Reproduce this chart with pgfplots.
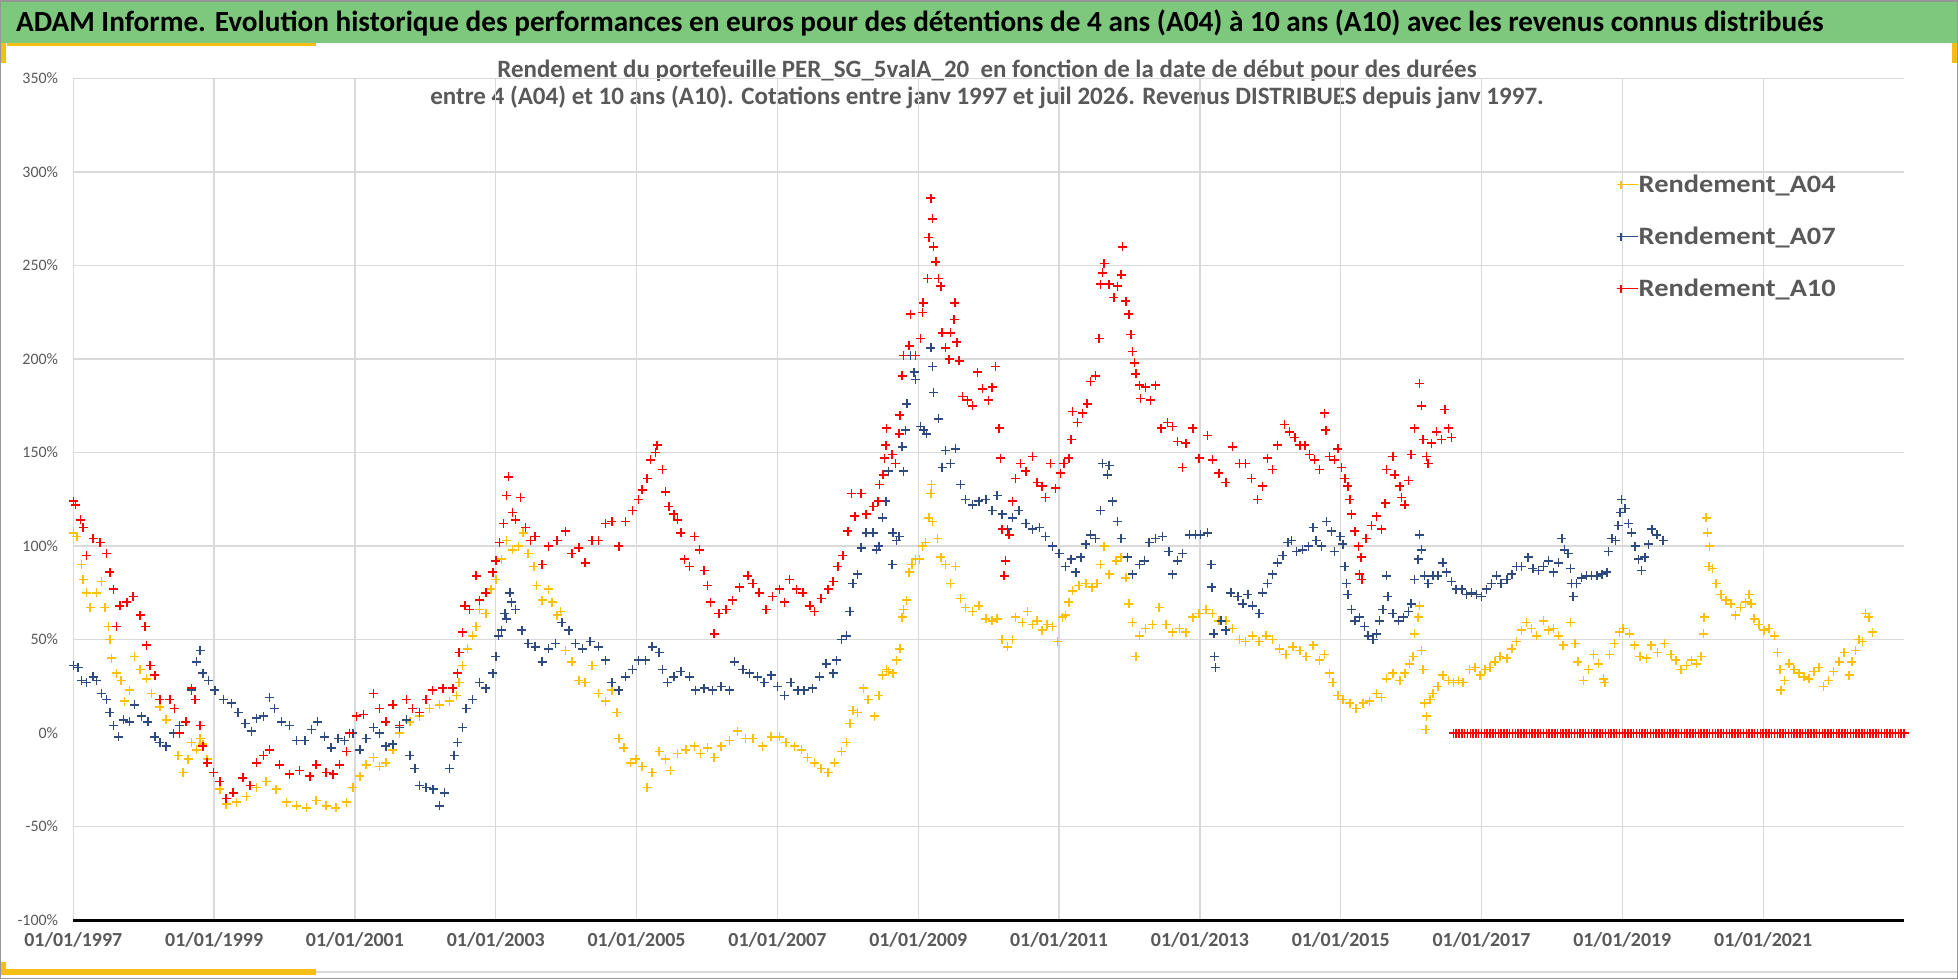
\documentclass[border=0pt]{standalone}
\usepackage{fontspec}
\setmainfont{Carlito}
\usepackage{graphicx}
\usepackage{pgfplots}
\usepackage{pgfplotstable}
\pgfplotsset{compat=1.18}
\definecolor{banner}{RGB}{126,200,126}
\definecolor{accent}{RGB}{245,190,20}
\definecolor{bordergray}{RGB}{150,150,150}
\definecolor{gridgray}{RGB}{217,217,217}
\definecolor{labelgray}{RGB}{89,89,89}
\definecolor{cAfour}{RGB}{255,192,0}
\definecolor{cAseven}{RGB}{46,74,126}
\definecolor{cAten}{RGB}{255,0,0}
\pgfplotsset{legimg/.style={legend image code/.code={\draw[##1,mark size=4bp,line width=1.1bp] plot coordinates {(4bp,0bp)}; \path (0bp,0bp) rectangle (21bp,0bp);}}}

\pgfplotstableread{
x y
1997.00 107
1997.05 105
1997.12 90
1997.14 82
1997.19 75
1997.24 67
1997.33 75
1997.40 81
1997.45 67
1997.50 57
1997.52 50
1997.54 40
1997.61 32
1997.68 28
1997.73 17
1997.80 23
1997.87 41
1997.95 34
1998.04 29
1998.11 21
1998.23 14
1998.32 7
1998.42 0
1998.49 -12
1998.56 -21
1998.63 -14
1998.68 -5
1998.75 -9
1998.80 -3
1998.84 -6
1998.90 -14
1998.99 -21
1999.08 -30
1999.17 -38
1999.32 -37
1999.46 -34
1999.60 -29
1999.74 -26
1999.88 -30
2000.03 -37
2000.17 -39
2000.31 -40
2000.45 -36
2000.59 -39
2000.73 -40
2000.88 -37
2000.97 -29
2001.07 -23
2001.16 -17
2001.26 -13
2001.35 -18
2001.44 -16
2001.54 -9
2001.63 0
2001.78 6
2001.92 9
2002.06 13
2002.20 15
2002.34 17
2002.44 20
2002.48 27
2002.53 36
2002.60 45
2002.67 52
2002.72 57
2002.77 66
2002.86 64
2002.93 77
2003.00 82
2003.08 93
2003.15 103
2003.24 98
2003.32 100
2003.39 107
2003.46 96
2003.54 89
2003.58 79
2003.66 71
2003.75 77
2003.80 70
2003.87 63
2003.92 65
2003.99 44
2004.08 38
2004.18 28
2004.27 27
2004.37 36
2004.46 21
2004.56 17
2004.65 23
2004.72 11
2004.75 -3
2004.82 -8
2004.91 -16
2004.99 -14
2005.08 -18
2005.15 -29
2005.22 -21
2005.32 -10
2005.41 -14
2005.48 -20
2005.58 -11
2005.70 -9
2005.82 -7
2005.91 -11
2006.01 -8
2006.10 -13
2006.20 -7
2006.32 -4
2006.43 1
2006.55 -3
2006.65 -3
2006.79 -7
2006.91 -2
2007.03 -2
2007.12 -5
2007.24 -7
2007.34 -9
2007.43 -13
2007.53 -16
2007.62 -19
2007.72 -21
2007.81 -16
2007.91 -10
2007.98 -5
2008.03 5
2008.07 12
2008.14 11
2008.22 24
2008.29 18
2008.38 9
2008.44 20
2008.49 31
2008.55 34
2008.58 33
2008.64 32
2008.69 39
2008.74 45
2008.77 62
2008.79 66
2008.83 71
2008.87 86
2008.91 90
2008.96 93
2009.02 93
2009.06 100
2009.10 102
2009.15 115
2009.18 128
2009.19 133
2009.20 113
2009.27 104
2009.32 94
2009.39 90
2009.46 80
2009.53 89
2009.60 72
2009.67 67
2009.77 65
2009.86 68
2009.96 61
2010.05 60
2010.12 61
2010.19 50
2010.27 46
2010.34 50
2010.38 62
2010.48 59
2010.55 65
2010.62 58
2010.69 60
2010.76 55
2010.83 58
2010.91 57
2010.98 49
2011.05 62
2011.09 63
2011.14 70
2011.19 76
2011.28 79
2011.38 80
2011.47 78
2011.54 80
2011.59 90
2011.64 100
2011.71 85
2011.81 92
2011.88 94
2011.95 83
2011.99 69
2012.04 59
2012.09 41
2012.14 52
2012.23 56
2012.33 58
2012.42 67
2012.52 58
2012.61 54
2012.71 56
2012.80 54
2012.90 62
2012.99 64
2013.09 66
2013.18 64
2013.27 60
2013.37 60
2013.46 56
2013.56 50
2013.65 49
2013.75 52
2013.84 49
2013.94 52
2014.03 50
2014.13 45
2014.22 42
2014.32 46
2014.42 44
2014.51 41
2014.61 47
2014.70 39
2014.77 42
2014.84 32
2014.89 27
2014.96 20
2015.03 18
2015.13 16
2015.22 13
2015.32 16
2015.41 17
2015.51 21
2015.58 19
2015.65 29
2015.74 32
2015.84 28
2015.91 32
2015.98 37
2016.03 41
2016.05 53
2016.10 62
2016.12 68
2016.15 44
2016.17 34
2016.19 16
2016.21 2
2016.22 9
2016.27 18
2016.31 21
2016.38 25
2016.45 31
2016.53 28
2016.60 27
2016.67 28
2016.74 27
2016.83 34
2016.91 35
2016.98 31
2017.05 34
2017.12 35
2017.19 38
2017.26 41
2017.36 40
2017.43 45
2017.50 49
2017.57 55
2017.64 59
2017.71 56
2017.78 52
2017.88 60
2017.95 55
2018.02 56
2018.09 52
2018.16 47
2018.26 59
2018.33 48
2018.37 38
2018.45 28
2018.52 34
2018.59 42
2018.66 37
2018.73 29
2018.75 27
2018.82 42
2018.89 48
2018.96 54
2019.01 56
2019.10 53
2019.17 47
2019.25 41
2019.34 40
2019.41 47
2019.50 43
2019.60 48
2019.69 42
2019.76 39
2019.83 34
2019.91 36
2019.98 39
2020.05 37
2020.12 41
2020.15 53
2020.16 62
2020.19 115
2020.21 107
2020.23 89
2020.24 100
2020.28 88
2020.33 80
2020.40 74
2020.47 71
2020.54 69
2020.61 63
2020.68 67
2020.75 70
2020.80 74
2020.83 69
2020.87 61
2020.94 58
2021.01 55
2021.08 56
2021.16 52
2021.20 43
2021.24 34
2021.25 23
2021.30 28
2021.37 37
2021.44 34
2021.51 32
2021.58 30
2021.65 29
2021.72 33
2021.79 35
2021.86 25
2021.93 28
2022.00 33
2022.08 38
2022.15 43
2022.22 31
2022.26 38
2022.31 44
2022.36 50
2022.41 49
2022.45 64
2022.50 62
2022.55 54
}\Afour

\pgfplotstableread{
x y
1997.00 36
1997.07 35
1997.12 28
1997.19 27
1997.28 30
1997.33 28
1997.40 21
1997.47 18
1997.52 11
1997.57 4
1997.64 -2
1997.71 7
1997.80 6
1997.87 15
1997.97 9
1998.06 6
1998.16 -2
1998.23 -5
1998.32 -7
1998.42 0
1998.51 4
1998.60 6
1998.68 23
1998.75 38
1998.80 44
1998.84 32
1998.92 28
1999.01 23
1999.13 18
1999.25 16
1999.34 11
1999.44 5
1999.53 1
1999.60 8
1999.70 9
1999.79 19
1999.86 13
1999.96 6
2000.07 4
2000.17 -4
2000.29 -4
2000.38 2
2000.47 6
2000.57 -2
2000.66 -8
2000.76 -3
2000.85 -4
2000.97 0
2001.07 -9
2001.16 -3
2001.26 3
2001.35 0
2001.44 -7
2001.54 -6
2001.63 3
2001.73 7
2001.78 -12
2001.85 -19
2001.92 -28
2002.01 -29
2002.11 -30
2002.20 -39
2002.27 -32
2002.34 -19
2002.41 -12
2002.46 -5
2002.53 3
2002.58 13
2002.67 18
2002.77 27
2002.86 24
2002.96 32
2003.00 41
2003.04 52
2003.08 55
2003.13 64
2003.15 61
2003.20 75
2003.22 70
2003.28 66
2003.37 55
2003.46 48
2003.56 46
2003.66 38
2003.75 45
2003.85 48
2003.94 59
2004.04 55
2004.13 48
2004.23 45
2004.34 49
2004.46 46
2004.56 39
2004.65 27
2004.75 23
2004.84 30
2004.94 34
2005.03 39
2005.13 39
2005.22 46
2005.32 43
2005.37 34
2005.44 27
2005.53 30
2005.63 33
2005.75 30
2005.84 23
2005.96 24
2006.08 23
2006.20 25
2006.32 23
2006.39 38
2006.51 34
2006.60 32
2006.72 30
2006.81 27
2006.91 31
2007.00 25
2007.10 20
2007.19 27
2007.29 23
2007.38 23
2007.50 24
2007.60 30
2007.69 37
2007.79 32
2007.84 39
2007.91 50
2007.98 52
2008.03 65
2008.07 80
2008.14 85
2008.19 99
2008.26 107
2008.36 107
2008.41 98
2008.44 100
2008.49 115
2008.54 124
2008.58 140
2008.63 90
2008.64 107
2008.69 103
2008.73 105
2008.77 153
2008.79 140
2008.82 162
2008.84 176
2008.89 202
2008.94 193
2008.96 189
2009.03 164
2009.08 162
2009.12 160
2009.18 206
2009.20 196
2009.22 182
2009.29 168
2009.34 142
2009.39 151
2009.46 144
2009.53 152
2009.60 133
2009.67 125
2009.77 122
2009.86 124
2009.96 125
2010.05 119
2010.12 127
2010.19 117
2010.27 109
2010.34 115
2010.43 119
2010.53 112
2010.62 109
2010.72 110
2010.81 105
2010.91 100
2011.00 96
2011.09 89
2011.17 93
2011.24 86
2011.31 94
2011.38 101
2011.45 106
2011.52 104
2011.59 119
2011.62 144
2011.69 138
2011.71 143
2011.76 124
2011.83 113
2011.88 104
2011.97 94
2012.04 85
2012.14 90
2012.21 92
2012.28 102
2012.37 104
2012.47 105
2012.56 97
2012.61 85
2012.68 92
2012.75 96
2012.85 106
2012.94 106
2013.01 106
2013.11 107
2013.16 90
2013.17 78
2013.20 53
2013.21 41
2013.22 35
2013.30 60
2013.37 55
2013.44 75
2013.54 73
2013.61 69
2013.68 74
2013.75 68
2013.84 64
2013.89 75
2013.96 80
2014.03 85
2014.10 91
2014.18 95
2014.25 102
2014.30 103
2014.37 97
2014.46 98
2014.54 100
2014.61 110
2014.65 103
2014.73 100
2014.80 113
2014.87 108
2014.91 97
2014.99 105
2015.03 101
2015.06 89
2015.08 80
2015.10 74
2015.15 66
2015.20 60
2015.27 62
2015.34 57
2015.39 52
2015.46 50
2015.51 53
2015.55 60
2015.60 66
2015.65 84
2015.67 73
2015.74 64
2015.82 60
2015.89 62
2015.96 65
2016.00 69
2016.05 82
2016.10 93
2016.12 106
2016.15 98
2016.19 84
2016.24 80
2016.31 84
2016.38 84
2016.45 91
2016.50 86
2016.57 81
2016.64 77
2016.72 77
2016.79 74
2016.86 75
2016.93 74
2017.00 73
2017.07 77
2017.14 80
2017.21 84
2017.28 80
2017.36 82
2017.43 85
2017.50 89
2017.57 89
2017.66 94
2017.73 88
2017.81 87
2017.88 89
2017.95 92
2018.02 86
2018.09 91
2018.14 104
2018.18 98
2018.23 96
2018.26 88
2018.28 80
2018.30 73
2018.35 80
2018.42 83
2018.49 84
2018.56 84
2018.64 84
2018.71 85
2018.78 86
2018.80 97
2018.85 104
2018.90 103
2018.94 111
2018.97 118
2018.99 125
2019.04 120
2019.09 112
2019.13 107
2019.18 100
2019.23 93
2019.27 87
2019.32 94
2019.37 101
2019.42 109
2019.49 106
2019.58 103
}\Aseven

\pgfplotstableread{
x y
1997.00 124
1997.03 122
1997.10 114
1997.14 110
1997.19 95
1997.28 104
1997.38 102
1997.47 96
1997.52 86
1997.57 77
1997.61 57
1997.66 68
1997.76 70
1997.85 73
1997.95 63
1998.02 57
1998.04 47
1998.09 36
1998.16 31
1998.23 18
1998.37 18
1998.44 13
1998.51 0
1998.60 6
1998.68 24
1998.73 18
1998.80 4
1998.84 -7
1998.90 -16
1998.99 -21
1999.08 -26
1999.17 -35
1999.27 -32
1999.41 -24
1999.51 -28
1999.60 -16
1999.70 -12
1999.79 -9
1999.93 -17
2000.07 -22
2000.21 -20
2000.36 -23
2000.45 -17
2000.59 -21
2000.69 -22
2000.78 -17
2000.88 -10
2000.92 0
2001.02 9
2001.12 10
2001.26 21
2001.35 13
2001.44 6
2001.54 15
2001.63 4
2001.73 18
2001.82 13
2001.92 11
2002.01 18
2002.10 23
2002.25 24
2002.39 24
2002.46 32
2002.48 43
2002.53 54
2002.56 68
2002.63 66
2002.72 84
2002.77 71
2002.86 75
2002.96 86
2003.00 92
2003.05 102
2003.11 112
2003.15 127
2003.18 137
2003.24 118
2003.28 114
2003.35 126
2003.42 110
2003.49 103
2003.56 105
2003.66 90
2003.75 100
2003.87 103
2003.99 108
2004.08 96
2004.18 99
2004.27 91
2004.37 103
2004.46 103
2004.56 112
2004.65 113
2004.75 100
2004.84 113
2004.94 119
2005.03 125
2005.08 130
2005.15 136
2005.20 146
2005.27 150
2005.29 154
2005.37 141
2005.41 129
2005.46 121
2005.53 117
2005.58 114
2005.63 107
2005.68 93
2005.75 89
2005.82 105
2005.89 98
2005.96 87
2006.01 79
2006.05 70
2006.10 53
2006.17 64
2006.27 66
2006.36 71
2006.46 78
2006.58 84
2006.65 80
2006.74 75
2006.84 66
2006.93 73
2007.03 77
2007.10 70
2007.17 82
2007.27 77
2007.36 75
2007.46 68
2007.53 65
2007.62 72
2007.72 77
2007.79 81
2007.86 89
2007.93 95
2008.00 108
2008.05 128
2008.10 116
2008.19 128
2008.26 117
2008.36 121
2008.43 124
2008.45 133
2008.50 138
2008.52 147
2008.54 154
2008.55 163
2008.63 149
2008.68 144
2008.73 160
2008.74 170
2008.77 191
2008.79 202
2008.87 207
2008.89 224
2008.96 202
2009.03 211
2009.06 225
2009.07 230
2009.13 243
2009.15 265
2009.18 286
2009.20 275
2009.22 260
2009.25 252
2009.29 243
2009.32 239
2009.34 214
2009.39 206
2009.44 200
2009.46 214
2009.51 221
2009.52 230
2009.55 209
2009.58 199
2009.63 180
2009.70 178
2009.77 175
2009.84 193
2009.91 184
2010.00 178
2010.05 185
2010.10 196
2010.15 163
2010.17 147
2010.19 109
2010.22 84
2010.24 92
2010.29 106
2010.34 124
2010.38 136
2010.45 144
2010.53 140
2010.62 148
2010.69 134
2010.76 132
2010.81 126
2010.88 144
2010.95 131
2011.02 139
2011.07 144
2011.14 147
2011.17 157
2011.19 172
2011.26 166
2011.33 171
2011.40 176
2011.45 188
2011.52 191
2011.57 211
2011.59 240
2011.62 246
2011.64 251
2011.71 240
2011.78 233
2011.83 239
2011.88 245
2011.90 260
2011.95 231
2011.99 224
2012.02 213
2012.04 204
2012.07 198
2012.09 192
2012.14 186
2012.16 179
2012.23 185
2012.30 178
2012.37 186
2012.45 163
2012.54 166
2012.61 164
2012.68 156
2012.75 142
2012.80 155
2012.90 163
2012.99 147
2013.11 159
2013.18 146
2013.27 139
2013.37 134
2013.46 153
2013.56 144
2013.65 144
2013.73 136
2013.82 125
2013.89 132
2013.96 147
2014.03 141
2014.10 154
2014.20 165
2014.27 161
2014.35 158
2014.42 154
2014.49 154
2014.56 149
2014.63 146
2014.70 141
2014.77 171
2014.79 162
2014.84 148
2014.91 146
2014.96 152
2015.01 142
2015.06 136
2015.10 132
2015.13 125
2015.15 117
2015.20 108
2015.25 100
2015.27 85
2015.29 94
2015.30 82
2015.36 104
2015.44 111
2015.51 116
2015.58 109
2015.63 123
2015.65 141
2015.74 148
2015.77 138
2015.84 132
2015.86 126
2015.91 122
2015.96 135
2016.00 149
2016.05 163
2016.12 187
2016.15 175
2016.17 157
2016.22 148
2016.24 144
2016.29 155
2016.36 161
2016.43 157
2016.48 173
2016.53 163
2016.57 158
}\Aten

\pgfplotstableread[row sep=\\]{
x y\\
2016.60 0\\2016.64 0\\2016.68 0\\2016.72 0\\2016.76 0\\2016.80 0\\2016.84 0\\2016.88 0\\2016.92 0\\2016.96 0\\
2017.00 0\\2017.04 0\\2017.08 0\\2017.12 0\\2017.16 0\\2017.20 0\\2017.24 0\\2017.28 0\\2017.32 0\\2017.36 0\\2017.40 0\\2017.44 0\\2017.48 0\\2017.52 0\\2017.56 0\\2017.60 0\\2017.64 0\\2017.68 0\\2017.72 0\\2017.76 0\\2017.80 0\\2017.84 0\\2017.88 0\\2017.92 0\\2017.96 0\\
2018.00 0\\2018.04 0\\2018.08 0\\2018.12 0\\2018.16 0\\2018.20 0\\2018.24 0\\2018.28 0\\2018.32 0\\2018.36 0\\2018.40 0\\2018.44 0\\2018.48 0\\2018.52 0\\2018.56 0\\2018.60 0\\2018.64 0\\2018.68 0\\2018.72 0\\2018.76 0\\2018.80 0\\2018.84 0\\2018.88 0\\2018.92 0\\2018.96 0\\
2019.00 0\\2019.04 0\\2019.08 0\\2019.12 0\\2019.16 0\\2019.20 0\\2019.24 0\\2019.28 0\\2019.32 0\\2019.36 0\\2019.40 0\\2019.44 0\\2019.48 0\\2019.52 0\\2019.56 0\\2019.60 0\\2019.64 0\\2019.68 0\\2019.72 0\\2019.76 0\\2019.80 0\\2019.84 0\\2019.88 0\\2019.92 0\\2019.96 0\\
2020.00 0\\2020.04 0\\2020.08 0\\2020.12 0\\2020.16 0\\2020.20 0\\2020.24 0\\2020.28 0\\2020.32 0\\2020.36 0\\2020.40 0\\2020.44 0\\2020.48 0\\2020.52 0\\2020.56 0\\2020.60 0\\2020.64 0\\2020.68 0\\2020.72 0\\2020.76 0\\2020.80 0\\2020.84 0\\2020.88 0\\2020.92 0\\2020.96 0\\
2021.00 0\\2021.04 0\\2021.08 0\\2021.12 0\\2021.16 0\\2021.20 0\\2021.24 0\\2021.28 0\\2021.32 0\\2021.36 0\\2021.40 0\\2021.44 0\\2021.48 0\\2021.52 0\\2021.56 0\\2021.60 0\\2021.64 0\\2021.68 0\\2021.72 0\\2021.76 0\\2021.80 0\\2021.84 0\\2021.88 0\\2021.92 0\\2021.96 0\\
2022.00 0\\2022.04 0\\2022.08 0\\2022.12 0\\2022.16 0\\2022.20 0\\2022.24 0\\2022.28 0\\2022.32 0\\2022.36 0\\2022.40 0\\2022.44 0\\2022.48 0\\2022.52 0\\2022.56 0\\2022.60 0\\2022.64 0\\2022.68 0\\2022.72 0\\2022.76 0\\2022.80 0\\2022.84 0\\2022.88 0\\2022.92 0\\2022.96 0\\
2023.00 0\\
}\Atenzero

\begin{document}
\begin{tikzpicture}
\begin{scope}[x=1bp,y=1bp]
\path[use as bounding box] (0,0) rectangle (1958,-979);
\fill[white] (0,0) rectangle (1958,-979);
\fill[banner] (0,0) rectangle (1958,-43);
\node[anchor=west,inner sep=0pt] at (16,-23) {\resizebox{1807bp}{!}{\bfseries ADAM Informe. Evolution historique des performances en euros pour des détentions de 4 ans (A04) à 10 ans (A10) avec les revenus connus distribués}};
\fill[accent] (7,-43) rectangle (316,-46);
\fill[accent] (0,-43) rectangle (6,-63);
\fill[accent] (1952,-43) rectangle (1958,-63);
\draw[gridgray,line width=1.5bp] (316,-972) -- (1958,-972);
\fill[accent] (0,-969) rectangle (316,-975);
\fill[accent] (0,-962) rectangle (6,-975);
\node[inner sep=0pt,text=labelgray] at (987,-71) {\resizebox{979bp}{!}{\bfseries Rendement du portefeuille PER\_SG\_5valA\_20\ \ en fonction de la date de début pour des durées}};
\node[inner sep=0pt,text=labelgray] at (987,-97) {\resizebox{1113bp}{!}{\bfseries entre 4 (A04) et 10 ans (A10). Cotations entre janv 1997 et juil 2026. Revenus DISTRIBUES depuis janv 1997.}};
\end{scope}
\begin{axis}[
  at={(73.3bp,-920bp)}, anchor=south west,
  scale only axis, width=1830.7bp, height=841.5bp,
  xmin=1997, xmax=2023, ymin=-100, ymax=350,
  clip=false,
  axis line style={draw=none},
  major tick length=0pt,
  xtick={1997,1999,2001,2003,2005,2007,2009,2011,2013,2015,2017,2019,2021},
  xticklabels={01/01/1997,01/01/1999,01/01/2001,01/01/2003,01/01/2005,01/01/2007,01/01/2009,01/01/2011,01/01/2013,01/01/2015,01/01/2017,01/01/2019,01/01/2021},
  ytick={-100,-50,50,100,150,200,250,300,350},
  yticklabels={-100\%,-50\%,50\%,100\%,150\%,200\%,250\%,300\%,350\%},
  extra y ticks={0}, extra y tick labels={0\%},
  extra y tick style={grid=none},
  xmajorgrids, ymajorgrids,
  grid style={gridgray, line width=1.3bp},
  xticklabel style={font=\bfseries\fontsize{20}{24}\selectfont, text=labelgray, anchor=center, yshift=-20bp, inner sep=0pt},
  yticklabel style={font=\fontsize{16}{19}\selectfont, text=labelgray, anchor=east, xshift=-15bp, inner sep=0pt},
  legend style={at={(rel axis cs:0.8427,0.8854)}, anchor=north west, draw=none, fill=none, inner sep=0pt, row sep=33bp,
    nodes={inner sep=0pt, text=labelgray}},
  legend cell align=left,
]
\addplot[only marks, mark=+, mark size=4.5bp, line width=1.5bp, color=cAfour, legimg] table {\Afour};
\addlegendentry{\resizebox{197bp}{!}{\scalebox{1}[0.88]{\bfseries Rendement\_A04}}}
\addplot[only marks, mark=+, mark size=4.5bp, line width=1.5bp, color=cAseven, legimg] table {\Aseven};
\addlegendentry{\resizebox{197bp}{!}{\scalebox{1}[0.88]{\bfseries Rendement\_A07}}}
\addplot[only marks, mark=+, mark size=4.5bp, line width=1.5bp, color=cAten, legimg] table {\Aten};
\addlegendentry{\resizebox{197bp}{!}{\scalebox{1}[0.88]{\bfseries Rendement\_A10}}}
\addplot[only marks, mark=+, mark size=4.5bp, line width=1.5bp, color=cAten, forget plot] table {\Atenzero};
\draw[black, line width=3bp] (rel axis cs:0,0) -- (rel axis cs:1,0);
\end{axis}
\begin{scope}[x=1bp,y=1bp]
\draw[bordergray,line width=1.5bp] (0.75,-0.75) rectangle (1957.25,-978.25);
\end{scope}
\end{tikzpicture}
\end{document}
